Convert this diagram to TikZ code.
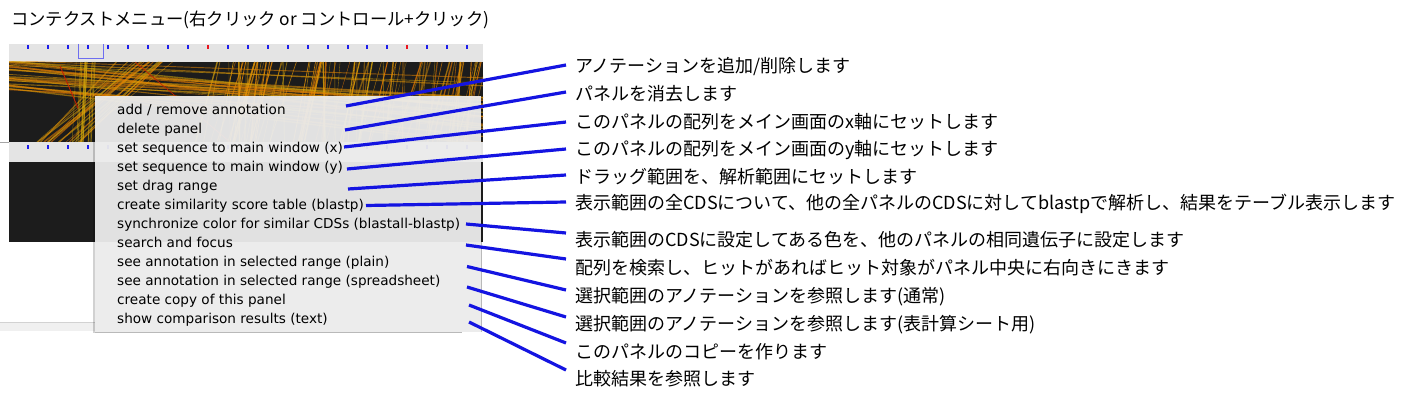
\documentclass[tikz,border=0pt]{standalone}
\usepackage{fontspec}
\setmainfont{DejaVu Sans}
\newfontfamily\jpfont{Noto Sans CJK JP}
\begin{document}
\begin{tikzpicture}[x=1pt,y=-1pt,
    menuitem/.style={anchor=base west, inner sep=0pt, font=\fontsize{13.6}{15}\selectfont},
    note/.style={anchor=west, inner xsep=9pt, inner ysep=1pt, font=\jpfont\fontsize{18}{20}\selectfont},
    pointer/.style={draw=linkblue, line width=3.2pt}]

    % Define colors
    \definecolor{barcolor}{RGB}{228,228,228}
    \definecolor{panelcolor}{RGB}{28,28,28}
    \definecolor{menucolor}{RGB}{236,236,236}
    \definecolor{linkblue}{RGB}{20,20,225}
    \definecolor{tickblue}{RGB}{30,30,235}
    \definecolor{tickred}{RGB}{235,20,30}
    \definecolor{selblue}{RGB}{110,110,240}
    \definecolor{hitorange}{RGB}{235,120,0}
    \definecolor{hityellow}{RGB}{215,170,10}
    \definecolor{hitred}{RGB}{200,30,0}

    \useasboundingbox (0,0) rectangle (1422,401);
    \fill[white] (0,0) rectangle (1422,401);

    % Title
    \node[anchor=west, inner sep=0pt, font=\jpfont\fontsize{17.3}{19}\selectfont] (title) at (11,20) {コンテクストメニュー(右クリック or コントロール+クリック)};

    % Draw the ruler bars
    \fill[barcolor] (9,44) rectangle (483,62);
    \fill[barcolor] (9,142) rectangle (483,162);
    \draw[gray!70] (0,142) -- (9,142);
    \foreach \i in {0,...,22} {
        \pgfmathsetmacro{\tx}{28.3+19.95*\i}
        \fill[tickblue] (\tx-1,45) rectangle (\tx+1,49.5);
        \fill[tickblue] (\tx-1,145) rectangle (\tx+1,149.5);
    }
    \fill[tickred] (206.9,45) rectangle (208.9,49.5);
    \fill[tickred] (406.4,45) rectangle (408.4,49.5);
    \draw[selblue, line width=1pt] (78,44) -- (78,58.5) -- (103,58.5) -- (103,44);

    % Draw the dark panels
    \fill[panelcolor] (9,62) rectangle (483,142);
    \fill[panelcolor] (9,162) rectangle (483,242);

    % Alignment hits in the upper panel
    \begin{scope}
        \clip (9,62) rectangle (483,142);
        \pgfmathsetseed{42}
        % near-vertical bands
        \foreach \i in {1,...,90} {
            \pgfmathsetmacro{\xa}{215+275*rnd}
            \pgfmathsetmacro{\xb}{\xa-28+30*rnd}
            \pgfmathsetmacro{\lw}{0.3+1.3*rnd}
            \pgfmathsetmacro{\op}{0.4+0.45*rnd}
            \pgfmathtruncatemacro{\mx}{100*rnd}
            \draw[hitorange!\mx!hityellow, line width=\lw pt, opacity=\op] (\xa,62) -- (\xb,142);
        }
        % shallow lines from the left
        \foreach \i in {1,...,26} {
            \pgfmathsetmacro{\ya}{60+30*rnd}
            \pgfmathsetmacro{\yb}{\ya+15+45*rnd}
            \pgfmathsetmacro{\lw}{0.4+1.4*rnd}
            \pgfmathtruncatemacro{\mx}{100*rnd}
            \draw[hitorange!\mx!hityellow, line width=\lw pt, opacity=0.55] (9,\ya) -- (483,\yb);
        }
        % rising band on the left
        \foreach \i in {1,...,18} {
            \pgfmathsetmacro{\xa}{30+55*rnd}
            \pgfmathsetmacro{\xb}{\xa+75+30*rnd}
            \pgfmathsetmacro{\lw}{0.4+1.2*rnd}
            \pgfmathtruncatemacro{\mx}{100*rnd}
            \draw[hitorange!\mx!hityellow, line width=\lw pt, opacity=0.55] (\xa,142) -- (\xb,62);
        }
        % band below the range marker
        \foreach \i in {1,...,14} {
            \pgfmathsetmacro{\xa}{76+22*rnd}
            \pgfmathsetmacro{\lw}{0.4+1.2*rnd}
            \draw[hityellow, line width=\lw pt, opacity=0.5] (\xa,62) -- (\xa-4,142);
        }
        \draw[hitred, line width=0.8pt] (60,66) -- (78,108);
        \draw[hitred, line width=0.6pt] (135,62) -- (230,142);
    \end{scope}

    % Light strip on the lower left
    \fill[gray!12] (0,322) rectangle (95,331);
    \draw[gray!35] (0,322) -- (95,322);

    % Draw the context menu
    \fill[black, opacity=0.18] (93,96) rectangle (95,333);
    \fill[menucolor, opacity=0.95] (95,96) rectangle (481,332);
    \draw[gray!55] (481,242) -- (481,332);
    \draw[gray!55] (95,332) -- (462,332);

    % Menu entries
    \node[menuitem] (add) at (117,114.5) {add / remove annotation};
    \node[menuitem] (del) at (117,133.5) {delete panel};
    \node[menuitem] (setx) at (117,152.5) {set sequence to main window (x)};
    \node[menuitem] (sety) at (117,171.5) {set sequence to main window (y)};
    \node[menuitem] (drag) at (117,190.5) {set drag range};
    \node[menuitem] (score) at (117,209.5) {create similarity score table (blastp)};
    \node[menuitem] (sync) at (117,228.5) {synchronize color for similar CDSs (blastall-blastp)};
    \node[menuitem] (search) at (117,247.5) {search and focus};
    \node[menuitem] (plain) at (117,266.5) {see annotation in selected range (plain)};
    \node[menuitem] (sheet) at (117,285.5) {see annotation in selected range (spreadsheet)};
    \node[menuitem] (copy) at (117,304.5) {create copy of this panel};
    \node[menuitem] (compare) at (117,323.5) {show comparison results (text)};

    % Explanations
    \node[note] (addnote) at (566,67) {アノテーションを追加/削除します};
    \node[note] (delnote) at (566,94) {パネルを消去します};
    \node[note] (setxnote) at (566,122) {このパネルの配列をメイン画面のx軸にセットします};
    \node[note] (setynote) at (566,150) {このパネルの配列をメイン画面のy軸にセットします};
    \node[note] (dragnote) at (566,177) {ドラッグ範囲を、解析範囲にセットします};
    \node[note] (scorenote) at (566,204) {表示範囲の全CDSについて、他の全パネルのCDSに対してblastpで解析し、結果をテーブル表示します};
    \node[note] (syncnote) at (566,240) {表示範囲のCDSに設定してある色を、他のパネルの相同遺伝子に設定します};
    \node[note] (searchnote) at (566,268) {配列を検索し、ヒットがあればヒット対象がパネル中央に右向きにきます};
    \node[note] (plainnote) at (566,297) {選択範囲のアノテーションを参照します(通常)};
    \node[note] (sheetnote) at (566,325) {選択範囲のアノテーションを参照します(表計算シート用)};
    \node[note] (copynote) at (566,352) {このパネルのコピーを作ります};
    \node[note] (comparenote) at (566,379) {比較結果を参照します};

    % Pointer start points
    \coordinate (addpt) at (346,106);
    \coordinate (delpt) at (345,130);
    \coordinate (setxpt) at (344,147);
    \coordinate (setypt) at (347,169);
    \coordinate (dragpt) at (348,189);
    \coordinate (scorept) at (366,205.5);
    \coordinate (syncpt) at (466,224);
    \coordinate (searchpt) at (466,245);
    \coordinate (plainpt) at (467,266.5);
    \coordinate (sheetpt) at (467,287);
    \coordinate (copypt) at (469,305);
    \coordinate (comparept) at (469,322);

    % Add pointers
    \draw[pointer] (addpt) -- ([yshift=2pt]addnote.west);
    \draw[pointer] (delpt) -- ([yshift=2pt]delnote.west);
    \draw[pointer] (setxpt) -- ([yshift=0pt]setxnote.west);
    \draw[pointer] (setypt) -- ([yshift=1pt]setynote.west);
    \draw[pointer] (dragpt) -- ([yshift=2pt]dragnote.west);
    \draw[pointer] (scorept) -- ([yshift=2pt]scorenote.west);
    \draw[pointer] (syncpt) -- ([yshift=7pt]syncnote.west);
    \draw[pointer] (searchpt) -- ([yshift=9pt]searchnote.west);
    \draw[pointer] (plainpt) -- ([yshift=7pt]plainnote.west);
    \draw[pointer] (sheetpt) -- ([yshift=8pt]sheetnote.west);
    \draw[pointer] (copypt) -- ([yshift=9pt]copynote.west);
    \draw[pointer] (comparept) -- ([yshift=9pt]comparenote.west);
\end{tikzpicture}
\end{document}
